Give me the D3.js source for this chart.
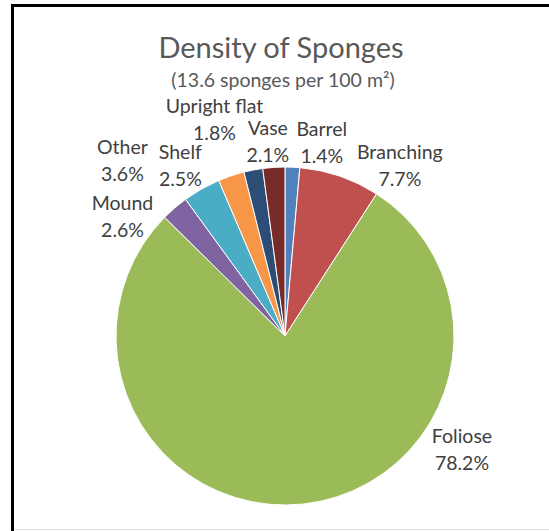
<!DOCTYPE html>
<html>
<head>
<meta charset="utf-8">
<script src="https://cdn.jsdelivr.net/npm/d3@7"></script>
<style>
  body { margin: 0; background: #fff; }
  svg { display: block; }
</style>
</head>
<body>
<svg id="chart" width="549" height="531"></svg>
<script>
// Sponge morphology shares (percent of all sponges counted)
const categories = ["Barrel", "Branching", "Foliose", "Mound", "Other", "Shelf", "Upright flat", "Vase"];
const percents = [1.4, 7.7, 78.2, 2.6, 3.6, 2.5, 1.8, 2.1];
const colors = ["#4F81BD", "#C0504D", "#9BBB59", "#8064A2", "#4BACC6", "#F79646", "#2C4D75", "#772C2A"];
const titleText = "Density of Sponges";
const subtitleText = "(13.6 sponges per 100 m²)";

// Label offsets (px) from each slice's outer label-ring centroid, to keep labels clear of each other
const labelShift = [[28, 6], [50, 18], [155, -86], [-32, 32], [-64, -2], [-41, 19], [-33, -21], [-4, 5]];

const W = 549, H = 531;
const cx = 285, cy = 336, R = 169, labelR = 200;
const font = "Lato, 'Open Sans', sans-serif";

const svg = d3.select("#chart");

// Chart frame
svg.append("line").attr("x1", 12.5).attr("x2", 12.5).attr("y1", 4).attr("y2", H)
  .attr("stroke", "#000").attr("stroke-width", 3);
svg.append("line").attr("x1", 11).attr("x2", W).attr("y1", 5.5).attr("y2", 5.5)
  .attr("stroke", "#000").attr("stroke-width", 3);
svg.append("line").attr("x1", 14).attr("x2", W).attr("y1", 529.5).attr("y2", 529.5)
  .attr("stroke", "#e0e0e0").attr("stroke-width", 1);

// Title and subtitle
svg.append("text").attr("x", 281).attr("y", 58)
  .attr("text-anchor", "middle").attr("fill", "#595959")
  .style("font-family", font).style("font-size", "29px")
  .text(titleText);
const sub = svg.append("text").attr("x", 283).attr("y", 87)
  .attr("text-anchor", "middle").attr("fill", "#595959")
  .style("font-family", font).style("font-size", "19.5px");
sub.text(subtitleText);

// Pie
const pie = d3.pie().sort(null).value(d => d.value).startAngle(0).endAngle(2 * Math.PI);
const data = categories.map((c, i) => ({ name: c, value: percents[i], color: colors[i], shift: labelShift[i] }));
const arcs = pie(data);
const arc = d3.arc().innerRadius(0).outerRadius(R);
const labelArc = d3.arc().innerRadius(labelR).outerRadius(labelR);

const g = svg.append("g").attr("transform", `translate(${cx},${cy})`);
g.selectAll("path.slice").data(arcs).join("path")
  .attr("class", "slice")
  .attr("d", arc)
  .attr("fill", d => d.data.color)
  .attr("stroke", "#fff")
  .attr("stroke-width", 1);

// Two-line data labels: category name and percent
const fmt = d3.format(".1f");
const lbl = g.selectAll("text.lbl").data(arcs).join("text")
  .attr("class", "lbl")
  .attr("text-anchor", "middle")
  .attr("fill", "#404040")
  .style("font-family", font)
  .style("font-size", "19.5px")
  .attr("transform", d => {
    const [x, y] = labelArc.centroid(d);
    return `translate(${x + d.data.shift[0]},${y + d.data.shift[1]})`;
  });
lbl.append("tspan").attr("x", 0).attr("y", -6).text(d => d.data.name);
lbl.append("tspan").attr("x", 0).attr("y", 21).text(d => fmt(d.data.value) + "%");
</script>
</body>
</html>
